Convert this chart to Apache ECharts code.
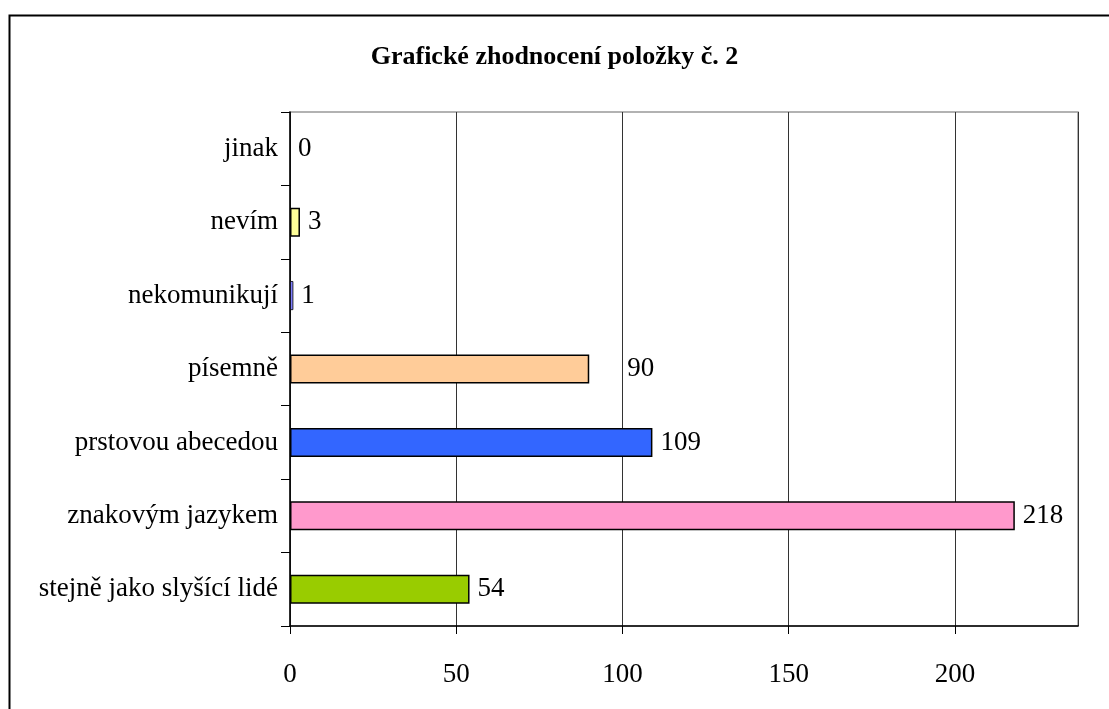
<!DOCTYPE html>
<html>
<head>
<meta charset="utf-8">
<script src="https://cdn.jsdelivr.net/npm/echarts@6/dist/echarts.min.js"></script>
<style>
  html, body { margin: 0; padding: 0; background: #fff; }
  #chart { width: 1109px; height: 709px; }
</style>
</head>
<body>
<div id="chart"></div>
<script>
  // data, bottom to top as drawn
  const categories = ['stejně jako slyšící lidé', 'znakovým jazykem', 'prstovou abecedou', 'písemně', 'nekomunikují', 'nevím', 'jinak'];
  const values = [54, 218, 109, 90, 1, 3, 0];
  const barColors = ['#99CC00', '#FF99CC', '#3366FF', '#FFCC99', '#8080FF', '#FFFF99', '#C0C0C0'];
  const chartTitle = 'Grafické zhodnocení položky č. 2';

  const serif = '"Liberation Serif", "DejaVu Serif", serif';
  let myChart = echarts.init(document.getElementById('chart'));
  let option = {
    backgroundColor: '#fff',
    animation: false,
    graphic: [{
      type: 'rect',
      left: 7, top: 13,
      shape: { width: 1200, height: 800 },
      style: { fill: 'none', stroke: '#000', lineWidth: 2 },
      silent: true
    }],
    title: {
      text: chartTitle,
      left: 'center',
      top: 39,
      textStyle: { fontFamily: serif, fontSize: 26, fontWeight: 'bold', color: '#000' }
    },
    grid: {
      left: 290, top: 112, right: 31, bottom: 83,
      show: true,
      borderColor: '#999',
      borderWidth: 1.5
    },
    xAxis: {
      type: 'value',
      min: 0,
      max: 237,
      interval: 50,
      axisLine: { show: true, lineStyle: { color: '#000', width: 1.5 } },
      axisTick: { show: true, length: 8, inside: false, lineStyle: { color: '#000' } },
      axisLabel: {
        margin: 35,
        fontFamily: serif, fontSize: 27, color: '#000',
        showMaxLabel: false,
        formatter: v => (v % 50 === 0 ? String(v) : '')
      },
      splitLine: { show: true, lineStyle: { color: '#333', width: 1 } }
    },
    yAxis: {
      type: 'category',
      data: categories,
      axisLine: { show: true, lineStyle: { color: '#000', width: 1.5 } },
      axisTick: { show: true, length: 9, lineStyle: { color: '#000' } },
      axisLabel: { margin: 12, fontFamily: serif, fontSize: 27, color: '#000' },
      splitLine: { show: false }
    },
    series: [{
      type: 'bar',
      barWidth: 29,
      data: values.map((v, i) => ({
        value: v,
        itemStyle: { color: barColors[i], borderColor: '#000', borderWidth: v === 0 ? 0 : (v < 2 ? 0.8 : 1.5) },
        // the 90 label sits further out in the original
        label: categories[i] === 'písemně' ? { distance: 38 } : undefined
      })),
      label: {
        show: true,
        position: 'right',
        distance: 8,
        fontFamily: serif,
        fontSize: 27,
        color: '#000'
      }
    }]
  };
  option && myChart.setOption(option);
</script>
</body>
</html>
